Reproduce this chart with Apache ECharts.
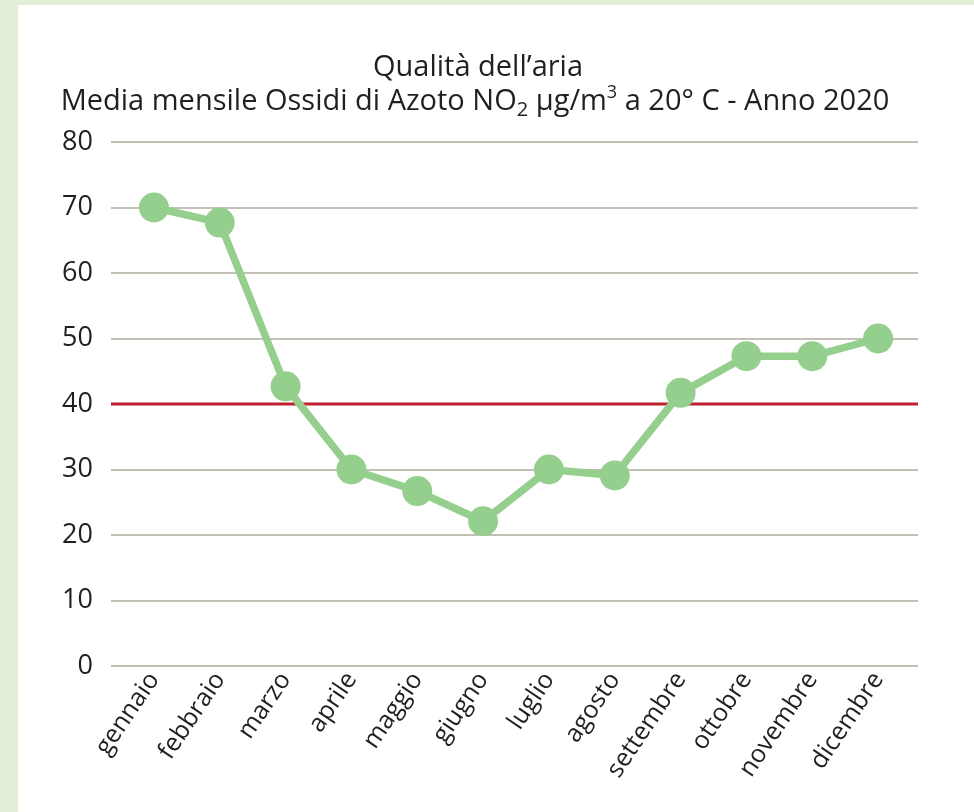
<!DOCTYPE html>
<html>
<head>
<meta charset="utf-8">
<script src="https://cdn.jsdelivr.net/npm/echarts@6/dist/echarts.min.js"></script>
<style>
html,body{margin:0;padding:0;background:#e1efd9;}
#c{width:974px;height:812px;}
</style>
</head>
<body>
<div id="c"></div>
<script>
const months = ['gennaio','febbraio','marzo','aprile','maggio','giugno','luglio','agosto','settembre','ottobre','novembre','dicembre'];
const no2 = [70, 67.7, 42.7, 30, 26.7, 22.1, 30, 29.1, 41.7, 47.3, 47.3, 50];
const limitValue = 40;
const limitLine = [limitValue, limitValue];
const yMin = 0, yMax = 80, yStep = 10;

const FONT = 'Open Sans';
const TXT = '#231f20';
const chart = echarts.init(document.getElementById('c'), null, {renderer: 'canvas'});
const gridTop = 142, gridBottom = 812 - 666;

chart.setOption({
  backgroundColor: '#e1efd9',
  animation: false,
  graphic: [{
    type: 'rect', left: 18, top: 5, z: -10,
    shape: {width: 974 - 18, height: 812 - 5},
    style: {fill: '#ffffff'}
  }],
  title: [{
    text: 'Qualità dell’aria',
    left: 473, top: 48, textAlign: 'center',
    textStyle: {fontFamily: FONT, fontSize: 29, fontWeight: 'normal', color: TXT}
  }, {
    text: '{t|Media mensile Ossidi di Azoto NO}{sub|2}{t| µg/m}{sup|3}{t| a 20° C - Anno 2020}',
    left: 470, top: 79, textAlign: 'center',
    textStyle: {
      fontFamily: FONT, fontSize: 29, fontWeight: 'normal', color: TXT,
      rich: {
        t: {fontFamily: FONT, fontSize: 29, color: TXT, lineHeight: 36},
        sub: {fontFamily: FONT, fontSize: 20, color: TXT, verticalAlign: 'bottom', lineHeight: 14, padding: [16, 0, 0, 0]},
        sup: {fontFamily: FONT, fontSize: 18, color: TXT, verticalAlign: 'top', lineHeight: 14}
      }
    }
  }],
  grid: [
    {left: 121, right: 974 - 911, top: gridTop, bottom: gridBottom, containLabel: false},
    {left: 111, right: 974 - 918, top: gridTop, bottom: gridBottom, containLabel: false}
  ],
  xAxis: [{
    type: 'category', gridIndex: 0, data: months, boundaryGap: true,
    axisLine: {show: false}, axisTick: {show: false},
    axisLabel: {rotate: 56, margin: 9, interval: 0, fontFamily: FONT, fontSize: 25, color: TXT}
  }, {
    type: 'category', gridIndex: 1, data: ['a', 'b'], boundaryGap: false, show: false
  }],
  yAxis: [{
    type: 'value', gridIndex: 0, min: yMin, max: yMax, interval: yStep, show: false,
    splitLine: {show: false}
  }, {
    type: 'value', gridIndex: 1, min: yMin, max: yMax, interval: yStep,
    axisLine: {show: false}, axisTick: {show: false},
    axisLabel: {margin: 18, fontFamily: FONT, fontSize: 27, color: TXT},
    splitLine: {show: true, lineStyle: {color: '#c3c0b8', width: 2}}
  }],
  series: [{
    type: 'line', xAxisIndex: 1, yAxisIndex: 1, data: limitLine,
    symbol: 'none', lineStyle: {color: '#c0202e', width: 3}, z: 2, silent: true
  }, {
    type: 'line', xAxisIndex: 0, yAxisIndex: 0, data: no2,
    symbol: 'circle', symbolSize: 30,
    itemStyle: {color: '#95cf8d'},
    lineStyle: {color: '#95cf8d', width: 7.5},
    z: 3
  }]
});
</script>
</body>
</html>
